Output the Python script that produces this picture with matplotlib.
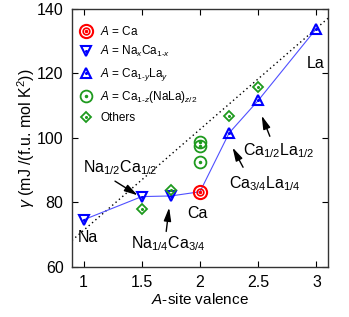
import matplotlib
matplotlib.use("Agg")
import matplotlib.pyplot as plt
from matplotlib.patches import FancyArrowPatch

plt.rcParams['font.family'] = ['Liberation Sans', 'DejaVu Sans']
plt.rcParams['mathtext.fontset'] = 'custom'
plt.rcParams['mathtext.rm'] = 'Liberation Sans'
plt.rcParams['mathtext.it'] = 'Liberation Sans:italic'
plt.rcParams['mathtext.bf'] = 'Liberation Sans:bold'

# ---- data ----
ca_x = [2.0]
ca_y = [83.3]

naca_x = [1.0, 1.5, 1.75]
naca_y = [74.6, 81.8, 82.0]

cala_x = [2.25, 2.5, 3.0]
cala_y = [101.5, 111.6, 133.9]

line_x = [1.0, 1.5, 1.75, 2.0, 2.25, 2.5, 3.0]
line_y = [74.6, 81.8, 82.0, 83.3, 101.5, 111.6, 133.9]

canala_x = [2.0, 2.0, 2.0]
canala_y = [98.6, 97.4, 92.6]

others_x = [1.5, 1.75, 2.25, 2.5]
others_y = [77.9, 83.9, 106.7, 115.7]

ref_x = [0.9, 3.1]
ref_y = [68.2, 137.1]

xticks = [1, 1.5, 2, 2.5, 3]
xticklabels = ['1', '1.5', '2', '2.5', '3']
yticks = [60, 80, 100, 120, 140]

legend_labels = ['$A$ = Ca', '$A$ = Na$_x$Ca$_{1\u2010x}$', '$A$ = Ca$_{1\u2010y}$La$_y$',
                 '$A$ = Ca$_{1\u2010z}$(NaLa)$_{z/2}$', 'Others']

# annotation labels: text, text position, arrow tail, arrow tip
ann_labels = ['Na$_{1/2}$Ca$_{1/2}$', 'Na$_{1/4}$Ca$_{3/4}$',
              'Ca$_{3/4}$La$_{1/4}$', 'Ca$_{1/2}$La$_{1/2}$']
ann_text_xy = [(1.31, 90.8), (1.73, 67.2), (2.56, 85.8), (2.68, 96.1)]
ann_tail_xy = [(1.27, 86.6), (1.71, 71.0), (2.37, 90.9), (2.60, 100.5)]
ann_tip_xy = [(1.465, 82.2), (1.735, 78.4), (2.28, 97.0), (2.53, 106.9)]

plain_labels = ['Na', 'Ca', 'La']
plain_xy = [(1.04, 69.0), (1.98, 76.7), (2.99, 123.0)]

red = '#ff0000'
blue = '#0000ff'
green = '#1e9a1e'

fig = plt.figure(figsize=(3.49, 3.17), dpi=100)
ax = fig.add_axes([0.206, 0.158, 0.734, 0.814])

ax.plot(ref_x, ref_y, color='black', ls=(0, (1, 2.2)), lw=1.0, zorder=1)
ax.plot(line_x, line_y, color='#5050ff', lw=0.8, zorder=2)

ms_kw = dict(ls='none', mfc='none')
h_ca1, = ax.plot(ca_x, ca_y, marker='o', ms=9.5, mec=red, mew=1.5, zorder=5, **ms_kw)
h_ca2, = ax.plot(ca_x, ca_y, marker='o', ms=4.8, mec=red, mew=1.2, zorder=5, **ms_kw)
h_ca3, = ax.plot(ca_x, ca_y, marker='o', ms=1.5, mec=red, mfc=red, ls='none', zorder=5)

h_naca, = ax.plot(naca_x, naca_y, marker='v', ms=7, mec=blue, mew=1.5, zorder=4, **ms_kw)
h_naca2, = ax.plot(naca_x, naca_y, marker='o', ms=1.2, mec=blue, mfc=blue, ls='none', zorder=4)
h_cala, = ax.plot(cala_x, cala_y, marker='^', ms=7, mec=blue, mew=1.5, zorder=4, **ms_kw)
h_cala2, = ax.plot(cala_x, cala_y, marker='o', ms=1.2, mec=blue, mfc=blue, ls='none', zorder=4)

h_cnl, = ax.plot(canala_x, canala_y, marker='o', ms=8.5, mec=green, mew=1.3, zorder=4, **ms_kw)
h_cnl2, = ax.plot(canala_x, canala_y, marker='o', ms=1.5, mec=green, mfc=green, ls='none', zorder=4)

h_oth, = ax.plot(others_x, others_y, marker='D', ms=5, mec=green, mew=1.3, zorder=4, **ms_kw)
h_oth2, = ax.plot(others_x, others_y, marker='o', ms=1.2, mec=green, mfc=green, ls='none', zorder=4)

ax.set_xlim(0.9, 3.1)
ax.set_ylim(60, 140)
ax.set_xticks(xticks)
ax.set_xticklabels(xticklabels)
ax.set_yticks(yticks)
ax.tick_params(direction='in', top=True, right=True, length=4, width=0.8,
               labelsize=11.5, pad=6)
for s in ax.spines.values():
    s.set_linewidth(1.0)
    s.set_color('#333333')

ax.set_xlabel('$A$-site valence', fontsize=11, labelpad=1)
ax.set_ylabel('$\\gamma$ (mJ /(f.u. mol K$^2$))', fontsize=11.5, labelpad=0)

ax.legend([(h_ca1, h_ca2, h_ca3), (h_naca, h_naca2), (h_cala, h_cala2),
           (h_cnl, h_cnl2), (h_oth, h_oth2)], legend_labels,
          loc='upper left', bbox_to_anchor=(-0.01, 0.975), frameon=False,
          fontsize=8.5, handlelength=1.2, handletextpad=0.6,
          labelspacing=0.55, borderaxespad=0.4)

fs = 11.5
for t, (x, y) in zip(plain_labels, plain_xy):
    ax.text(x, y, t, fontsize=fs, ha='center', va='center')

for t, txy, tail, tip in zip(ann_labels, ann_text_xy, ann_tail_xy, ann_tip_xy):
    ax.text(txy[0], txy[1], t, fontsize=fs, ha='center', va='center')
    arr = FancyArrowPatch(posA=tail, posB=tip, transform=ax.transData,
                          arrowstyle='-|>,head_length=0.8,head_width=0.22',
                          mutation_scale=10, color='black', lw=1.0,
                          shrinkA=0, shrinkB=0, zorder=6)
    ax.add_patch(arr)

fig.savefig('out.png', dpi=100)
